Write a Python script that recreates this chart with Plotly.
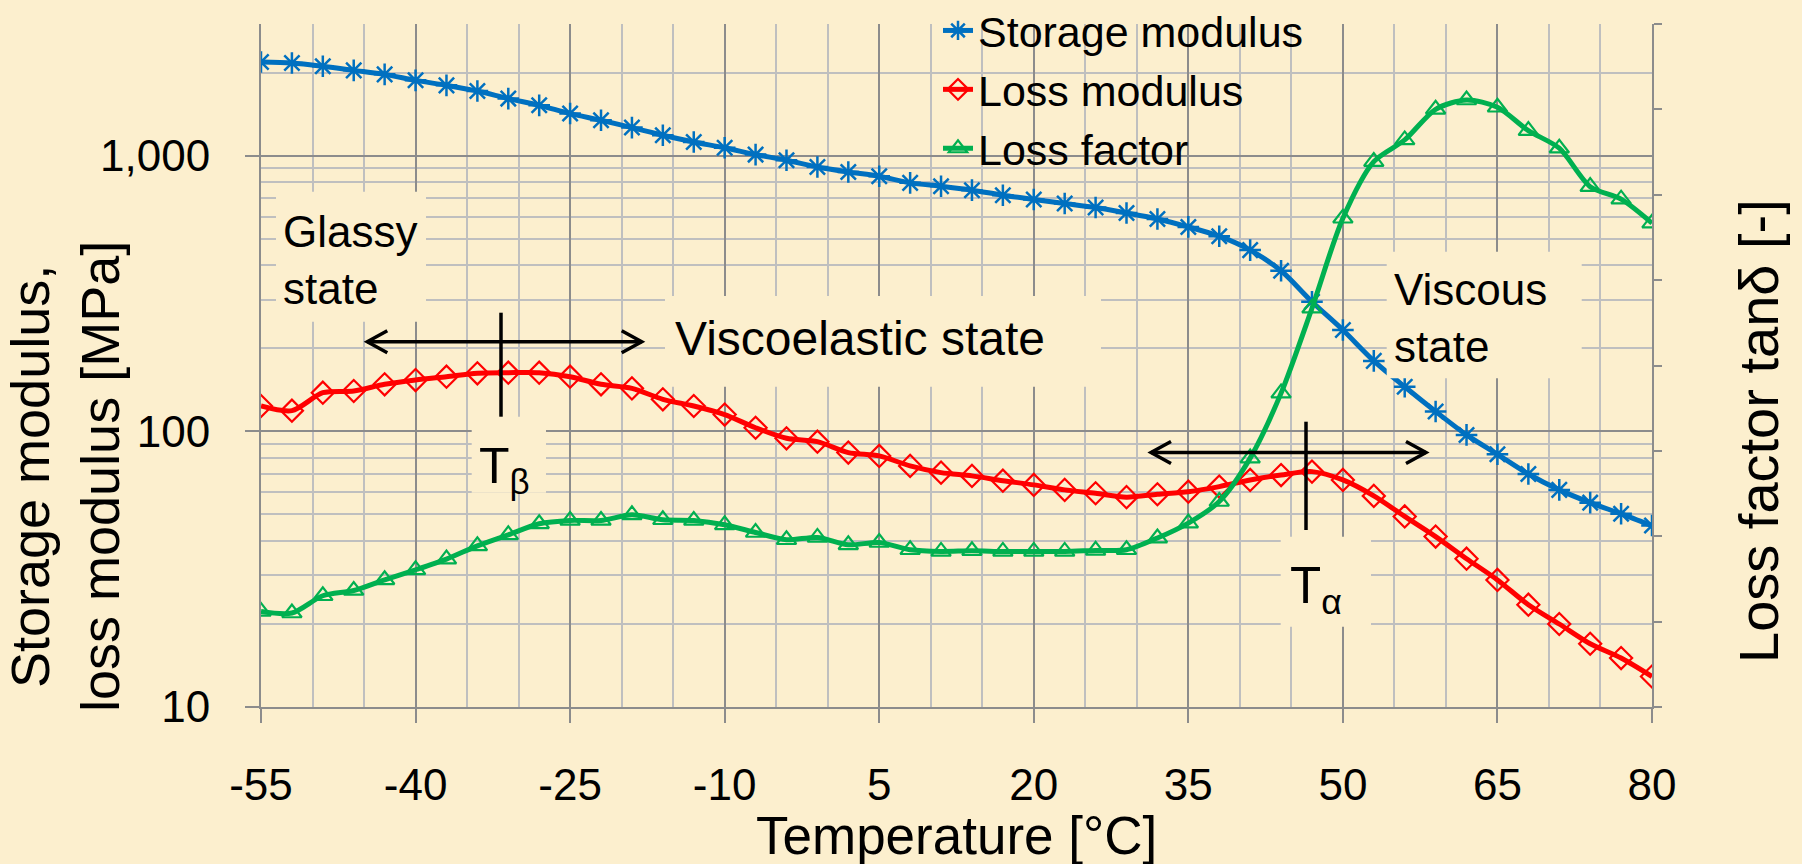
import numpy as np
import plotly.graph_objects as go

# ---------------- data ----------------
temperature_c = [-55, -52, -49, -46, -43, -40, -37, -34, -31, -28, -25, -22, -19, -16, -13,
                 -10, -7, -4, -1, 2, 5, 8, 11, 14, 17, 20, 23, 26, 29, 32, 35, 38, 41, 44,
                 47, 50, 53, 56, 59, 62, 65, 68, 71, 74, 77, 80]

storage_modulus_mpa = [2183, 2165, 2107, 2037, 1970, 1874, 1797, 1714, 1609, 1521, 1420, 1343,
                       1263, 1185, 1120, 1067, 1008, 962, 909, 872, 841, 796, 774, 749, 718, 693,
                       670, 648, 619, 589, 551, 510, 454, 382, 295, 233, 180, 145, 118, 97.0,
                       82.5, 70.0, 61.3, 55.1, 50.2, 45.5]

loss_modulus_mpa = [123.5, 118.8, 138, 140, 148, 153.4, 157.7, 162.3, 163.1, 163.1, 157.7, 148,
                    143.1, 130.6, 123.5, 115, 103, 94.3, 91.7, 83.7, 81.4, 74.9, 70.8, 68.9, 66.2,
                    63.9, 61.3, 59.6, 57.7, 59.1, 60.4, 63.0, 66.6, 69.4, 71.4, 66.6, 58.3, 49.1,
                    41.5, 34.5, 28.9, 23.5, 20.0, 16.96, 15.05, 12.9]

loss_factor = [0.1119, 0.1101, 0.1303, 0.1365, 0.149, 0.1607, 0.1733, 0.1888, 0.2017, 0.2146,
               0.2185, 0.2185, 0.2251, 0.2193, 0.2185, 0.2134, 0.2044, 0.1959, 0.1986, 0.19,
               0.1927, 0.1842, 0.1822, 0.183, 0.1822, 0.1822, 0.1822, 0.1834, 0.1842, 0.1979,
               0.2154, 0.2407, 0.2915, 0.3676, 0.4671, 0.5725, 0.6388, 0.6642, 0.7001, 0.711,
               0.7025, 0.6751, 0.6545, 0.6095, 0.5948, 0.5667]

series_names = ["Storage modulus", "Loss modulus", "Loss factor"]

x_tick_values = [-55, -40, -25, -10, 5, 20, 35, 50, 65, 80]
x_tick_labels = ["-55", "-40", "-25", "-10", "5", "20", "35", "50", "65", "80"]
x_minor_values = [-50, -45, -35, -30, -20, -15, -5, 0, 10, 15, 25, 30, 40, 45, 55, 60, 70, 75]

y_tick_values = [10, 100, 1000]
y_tick_labels = ["10", "100", "1,000"]
y_minor_values = [20, 30, 40, 50, 60, 70, 80, 90, 200, 300, 400, 500, 600, 700, 800, 900,
                  2000, 3000]

y2_tick_values = [0, 0.1, 0.2, 0.3, 0.4, 0.5, 0.6, 0.7, 0.8]

# ---------------- styling ----------------
BG = "#FCEFCE"
MAJOR = "#8C8C8C"
MINOR = "#BFBFBF"
FONT = "Liberation Sans, Arial, sans-serif"
BLUE, RED, GREEN = "#0070C0", "#FF0000", "#00B050"

W, H = 1802, 864
PL, PR, PT, PB = 261, 1652, 24, 707   # plot area in pixels


def px_t(px):          # pixel x -> temperature (data)
    return -55 + (px - PL) / (PR - PL) * 135


def px_xp(px):         # pixel x -> paper x
    return (px - PL) / (PR - PL)


def px_yp(py):         # pixel y -> paper y
    return (PB - py) / (PB - PT)


fig = go.Figure()
fig.add_trace(go.Scatter(
    x=temperature_c, y=storage_modulus_mpa, name=series_names[0], mode="lines+markers",
    line=dict(color=BLUE, width=5, shape="spline", smoothing=0.8),
    marker=dict(symbol="asterisk-open", size=18, color=BLUE, line=dict(color=BLUE, width=2.5))))
fig.add_trace(go.Scatter(
    x=temperature_c, y=loss_modulus_mpa, name=series_names[1], mode="lines+markers",
    line=dict(color=RED, width=5, shape="spline", smoothing=0.8),
    marker=dict(symbol="diamond-open", size=17, color=RED, line=dict(color=RED, width=2.2))))
fig.add_trace(go.Scatter(
    x=temperature_c, y=loss_factor, name=series_names[2], mode="lines+markers", yaxis="y2",
    line=dict(color=GREEN, width=5, shape="spline", smoothing=0.8),
    marker=dict(symbol="triangle-up-open", size=17, color=GREEN, line=dict(color=GREEN, width=2.2))))

shapes = []
# legend background box (hides gridlines, below traces)
shapes.append(dict(type="rect", xref="x", yref="paper", x0=px_t(892), x1=px_t(1359),
                   y0=px_yp(178), y1=1.0, fillcolor=BG, line=dict(width=0), layer="between"))
# text boxes (above everything)
for (x0, x1, y0, y1) in [(276, 426, 191.7, 321.7), (665, 1101, 296, 386.7),
                         (1386.7, 1581.7, 251.7, 378.3), (471.7, 546, 416.7, 492.7),
                         (1280.7, 1371, 536.7, 626.7)]:
    shapes.append(dict(type="rect", xref="x", yref="paper", x0=px_t(x0), x1=px_t(x1),
                       y0=px_yp(y1), y1=px_yp(y0), fillcolor=BG, line=dict(width=0),
                       layer="above"))


def arrow(xl, xr, y, xv, yv0, yv1):
    out = []
    ln = dict(color="black", width=3.5)
    out.append(dict(type="line", xref="x", yref="paper", x0=px_t(xl), x1=px_t(xr),
                    y0=px_yp(y), y1=px_yp(y), line=ln, layer="above"))
    out.append(dict(type="line", xref="x", yref="paper", x0=px_t(xv), x1=px_t(xv),
                    y0=px_yp(yv0), y1=px_yp(yv1), line=ln, layer="above"))
    for tip, back in [(xl, xl + 20), (xr, xr - 20)]:
        path = "M {a},{b} L {c},{d} L {e},{f}".format(
            a=px_t(back), b=px_yp(y - 11), c=px_t(tip), d=px_yp(y),
            e=px_t(back), f=px_yp(y + 11))
        out.append(dict(type="path", xref="x", yref="paper", path=path, line=ln,
                        fillcolor="rgba(0,0,0,0)", layer="above"))
    return out


shapes += arrow(367.3, 641.7, 341.7, 501, 312.7, 416.7)
shapes += arrow(1151, 1426, 452.5, 1306, 421.7, 530)

ann = []


def text(t, xpx, ypx, size, xanchor="center", angle=0, align="center"):
    ann.append(dict(text=t, xref="paper", yref="paper", x=px_xp(xpx), y=px_yp(ypx),
                    xanchor=xanchor, yanchor="middle", showarrow=False, textangle=angle,
                    align=align, font=dict(family=FONT, size=size, color="black")))


text("Temperature [°C]", (PL + PR) / 2, 835, 53)
text("Storage modulus,<br>loss modulus [MPa]", 65, 477, 54, angle=-90)
text("Loss factor tanδ [-]", 1758, 431, 56, angle=-90)
text("Glassy<br>state", 281, 259.8, 44, xanchor="left", align="left")
text("Viscoelastic state", 672.6, 338.4, 48, xanchor="left")
text("Viscous<br>state", 1392, 318.1, 44, xanchor="left", align="left")
text("T<sub>β</sub>", 477, 469.3, 50, xanchor="left")
text("T<sub>α</sub>", 1288, 589.3, 51, xanchor="left")

fig.update_layout(
    width=W, height=H,
    margin=dict(l=PL, r=W - PR, t=PT, b=H - PB, autoexpand=False),
    paper_bgcolor=BG, plot_bgcolor=BG,
    font=dict(family=FONT, color="black", size=44),
    showlegend=True,
    legend=dict(x=px_xp(938), y=px_yp(-4), xanchor="left", yanchor="top",
                bgcolor="rgba(0,0,0,0)", font=dict(size=43, family=FONT, color="black"),
                tracegroupgap=0),
    xaxis=dict(range=[-55, 80], tickmode="array", tickvals=x_tick_values,
               ticktext=x_tick_labels, ticks="outside", ticklen=14, tickwidth=2,
               tickcolor=MAJOR, showgrid=True, gridcolor=MAJOR, gridwidth=2,
               minor=dict(tickvals=x_minor_values, showgrid=True, gridcolor=MINOR,
                          gridwidth=1.5, ticks=""),
               showline=True, linecolor=MAJOR, linewidth=2, zeroline=False,
               tickfont=dict(size=44, family=FONT, color="black"), ticklabelstandoff=24),
    yaxis=dict(type="log", range=[1, np.log10(3000)], tickmode="array",
               tickvals=y_tick_values, ticktext=y_tick_labels, ticks="outside",
               ticklen=14, tickwidth=2, tickcolor=MAJOR, showgrid=True, gridcolor=MAJOR,
               gridwidth=2,
               minor=dict(tickvals=y_minor_values, showgrid=True, gridcolor=MINOR,
                          gridwidth=1.5, ticks=""),
               showline=True, linecolor=MAJOR, linewidth=2, zeroline=False,
               tickfont=dict(size=44, family=FONT, color="black"), ticklabelstandoff=26),
    yaxis2=dict(overlaying="y", side="right", range=[0, 0.8], tickmode="array",
                tickvals=y2_tick_values, showticklabels=False, ticks="outside", ticklen=8,
                tickwidth=2, tickcolor=MAJOR, showgrid=False, zeroline=False,
                showline=True, linecolor=MAJOR, linewidth=2),
    shapes=shapes,
    annotations=ann,
)

fig.write_html("out.html", config={"displayModeBar": False},
               post_script="document.body.style.margin='0';")
